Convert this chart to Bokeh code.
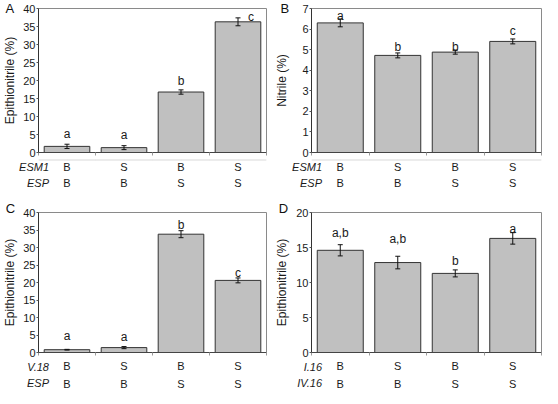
from bokeh.plotting import figure
from bokeh.models import (Range1d, FixedTicker, LinearAxis, Whisker, TeeHead,
                          ColumnDataSource, Label, Title)
from bokeh.layouts import column, row
from bokeh.core.properties import value
from bokeh.embed import file_html
from bokeh.resources import INLINE

# ---------------- data ----------------
panel_letters = ["A", "B", "C", "D"]
y_titles = ["Epithionitrile (%)", "Nitrile (%)", "Epithionitrile (%)", "Epithionitrile (%)"]
y_max = [40, 7, 40, 20]
y_step = [5, 1, 5, 5]

row1_names = ["ESM1", "ESM1", "V.18", "I.16"]
row2_names = ["ESP", "ESP", "ESP", "IV.16"]
row1_genotypes = ["B", "S", "B", "S"]
row2_genotypes = ["B", "B", "S", "S"]

A_values = [1.7, 1.35, 16.8, 36.3]
A_errors = [0.6, 0.55, 0.6, 1.1]
A_letters = ["a", "a", "b", "c"]

B_values = [6.3, 4.72, 4.88, 5.4]
B_errors = [0.19, 0.12, 0.1, 0.12]
B_letters = ["a", "b", "b", "c"]

C_values = [0.8, 1.4, 33.8, 20.6]
C_errors = [0.1, 0.3, 1.0, 0.7]
C_letters = ["a", "a", "b", "c"]

D_values = [14.6, 12.85, 11.3, 16.3]
D_errors = [0.8, 0.9, 0.5, 0.82]
D_letters = ["a,b", "a,b", "b", "a"]

# ---------------- style ----------------
FONT = "Liberation Sans"
BAR_FILL = "#c0c0c0"
BAR_LINE = "#333333"
TXT = "#1a1a1a"

spec = {
    "A": dict(w=271, t=8, fh=144, mb=7, ht=35, l=33, r=5, lab_so=3,
              nudge=[(0, 10), (0, 11), (0, 9), (13, 1)],
              s1=0, s2=1, name_top=1, let_off=-33),
    "B": dict(w=271, t=8, fh=144, mb=7, ht=35, l=40, r=1, lab_so=10,
              nudge=[(0, 3), (0, 6), (0, 3.5), (0, 8)],
              s1=0, s2=1, name_top=1, let_off=-31),
    "C": dict(w=271, t=18, fh=140, mb=7, ht=33, l=33, r=5, lab_so=3,
              nudge=[(0, 13), (0, 9.5), (0, 6), (0, 5)],
              s1=0, s2=3, name_top=1, let_off=-28),
    "D": dict(w=271, t=18, fh=140, mb=7, ht=33, l=40, r=1, lab_so=4,
              nudge=[(0, 12), (0, 17), (0, 9), (0, 4)],
              s1=0, s2=3, name_top=1, let_off=-28),
}


def make_panel(letter, title, ymax, ystep, vals, errs, sig, name1, name2):
    s = spec[letter]
    n = len(vals)
    xs = list(range(1, n + 1))
    xr = Range1d(0.5, n + 0.5)

    # ---------- main plot ----------
    p = figure(width=s["w"], height=s["t"] + s["fh"] + s["mb"], output_backend="svg",
               toolbar_location=None, x_range=xr, y_range=Range1d(0, ymax),
               min_border_left=s["l"], min_border_right=s["r"],
               min_border_top=s["t"], min_border_bottom=s["mb"])
    p.grid.visible = False
    p.outline_line_color = "#8a8a8a"
    p.outline_line_width = 1

    p.vbar(x=xs, top=vals, bottom=0, width=0.8, fill_color=BAR_FILL,
           line_color=BAR_LINE, line_width=1)

    src = ColumnDataSource(dict(
        x=xs,
        upper=[v + e for v, e in zip(vals, errs)],
        lower=[v - e for v, e in zip(vals, errs)],
    ))
    p.add_layout(Whisker(source=src, base="x", upper="upper", lower="lower",
                         line_color="#111111", line_width=1, level="annotation",
                         upper_head=TeeHead(size=5, line_color="#111111", line_width=1),
                         lower_head=TeeHead(size=5, line_color="#111111", line_width=1)))

    tops = [v + e for v, e in zip(vals, errs)]
    for (xv, tv, lt), (xo, yo) in zip(zip(xs, tops, sig), s["nudge"]):
        p.text(x=[xv], y=[tv], text=[lt], x_offset=xo, y_offset=-yo,
               text_align="center", text_baseline="alphabetic",
               text_font=value(FONT), text_font_size="12px", text_color=TXT)

    yax = p.yaxis[0]
    yax.ticker = FixedTicker(ticks=list(range(0, ymax + 1, ystep)))
    yax.axis_label = title
    yax.axis_label_standoff = s["lab_so"]
    yax.axis_label_text_font = FONT
    yax.axis_label_text_font_style = "normal"
    yax.axis_label_text_font_size = "12px"
    yax.axis_label_text_color = TXT
    yax.major_label_text_font = FONT
    yax.major_label_text_font_size = "11px"
    yax.major_label_text_color = TXT
    yax.major_label_standoff = 1
    yax.major_tick_out = 2
    yax.major_tick_in = 0
    yax.minor_tick_out = 0
    yax.minor_tick_in = 0
    yax.axis_line_color = "#333333"
    yax.major_tick_line_color = "#555555"

    bounds = [x - 0.5 for x in xs] + [n + 0.5]
    xax = p.xaxis[0]
    xax.ticker = FixedTicker(ticks=[], minor_ticks=bounds)
    xax.major_tick_out = 0
    xax.major_tick_in = 0
    xax.minor_tick_out = 3
    xax.minor_tick_in = 0
    xax.minor_tick_line_color = "#9a9a9a"
    xax.axis_line_color = "#444444"

    # panel letter
    if letter in ("A", "B"):
        p.add_layout(Title(text=letter, align="left", offset=s["let_off"],
                           standoff=-17, vertical_align="middle",
                           text_font=FONT, text_font_size="13px",
                           text_font_style="normal", text_color="#111111"), "above")
    else:
        p.add_layout(Label(x=0.5, y=ymax, x_offset=-28, y_offset=4, text=letter,
                           text_align="center", text_baseline="middle",
                           text_font=FONT, text_font_size="13px",
                           text_color="#111111"), "above")

    # ---------- genotype strip ----------
    q = figure(width=s["w"], height=s["ht"], output_backend="svg",
               toolbar_location=None, x_range=xr, y_range=Range1d(0, 1),
               x_axis_location=None, y_axis_location=None,
               min_border_left=s["l"], min_border_right=s["r"],
               min_border_top=0, min_border_bottom=s["ht"] - 1)
    q.outline_line_color = None
    ov1, ov2 = {}, {}
    for xv, g1, g2 in zip(xs, row1_genotypes, row2_genotypes):
        ov1[xv] = g1
        ov1[str(xv)] = g1
        ov2[xv] = g2
        ov2[str(xv)] = g2
    for ov, so in ((ov1, s["s1"]), (ov2, s["s2"])):
        ax = LinearAxis(ticker=FixedTicker(ticks=xs), major_label_overrides=ov,
                        axis_line_color=None, major_tick_line_color=None,
                        minor_tick_line_color=None, major_label_standoff=so,
                        major_tick_out=0, major_tick_in=0,
                        major_label_text_font=FONT,
                        major_label_text_font_size="11px",
                        major_label_text_color=TXT)
        q.add_layout(ax, "below")
    q.add_layout(Label(x=0.5, y=1, x_offset=10.5, y_offset=-s["name_top"],
                       text=name1 + "\n" + name2,
                       text_align="right", text_baseline="top",
                       text_line_height=1.4,
                       text_font=FONT, text_font_size="11px",
                       text_font_style="italic", text_color=TXT), "left")
    return column(p, q)


pA = make_panel("A", y_titles[0], y_max[0], y_step[0], A_values, A_errors, A_letters,
                row1_names[0], row2_names[0])
pB = make_panel("B", y_titles[1], y_max[1], y_step[1], B_values, B_errors, B_letters,
                row1_names[1], row2_names[1])
pC = make_panel("C", y_titles[2], y_max[2], y_step[2], C_values, C_errors, C_letters,
                row1_names[2], row2_names[2])
pD = make_panel("D", y_titles[3], y_max[3], y_step[3], D_values, D_errors, D_letters,
                row1_names[3], row2_names[3])

layout = column(row(pA, pB), row(pC, pD))
open("out.html", "w").write(file_html(layout, INLINE))
